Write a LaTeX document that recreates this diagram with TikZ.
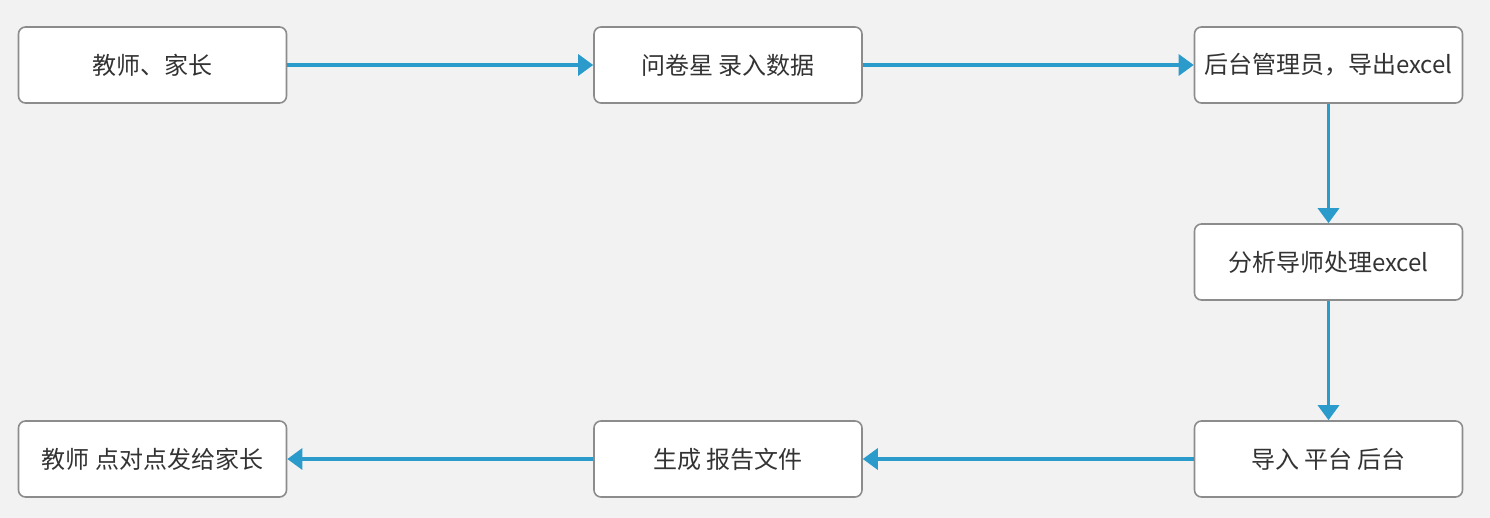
\documentclass[tikz,border=0pt]{standalone}
\usepackage{fontspec}
\newfontfamily\cjk{Noto Sans CJK SC}
\usetikzlibrary{arrows.meta}
\definecolor{bgcol}{HTML}{F2F2F2}
\definecolor{boxline}{HTML}{8C8C8C}
\definecolor{flow}{HTML}{2B9BCB}
\definecolor{txt}{HTML}{333333}
\begin{document}
\begin{tikzpicture}[x=1pt,y=-1pt,
  stepbox/.style={draw=boxline,line width=1.6pt,fill=white,rounded corners=7pt,
    minimum width=268pt,minimum height=76pt,inner sep=0pt,
    font=\cjk\fontsize{24}{28}\selectfont,text=txt},
  flowarrow/.style={draw=flow,line width=3.2pt,
    -{Triangle[length=15pt,width=21pt]}}]
  \fill[bgcol] (0,0) rectangle (1490,518);
  \useasboundingbox (0,0) rectangle (1490,518);
  \node[stepbox] (a) at (152.5,65) {教师、家长};
  \node[stepbox] (b) at (728,65) {问卷星 录入数据};
  \node[stepbox] (c) at (1328.5,65) {后台管理员，导出excel};
  \node[stepbox] (d) at (1328.5,262) {分析导师处理excel};
  \node[stepbox] (e) at (1328.5,459) {导入 平台 后台};
  \node[stepbox] (f) at (728,459) {生成 报告文件};
  \node[stepbox] (g) at (152.5,459) {教师 点对点发给家长};
  \draw[flowarrow] (a) -- (b);
  \draw[flowarrow] (b) -- (c);
  \draw[flowarrow] (c) -- (d);
  \draw[flowarrow] (d) -- (e);
  \draw[flowarrow] (e) -- (f);
  \draw[flowarrow] (f) -- (g);
\end{tikzpicture}
\end{document}
